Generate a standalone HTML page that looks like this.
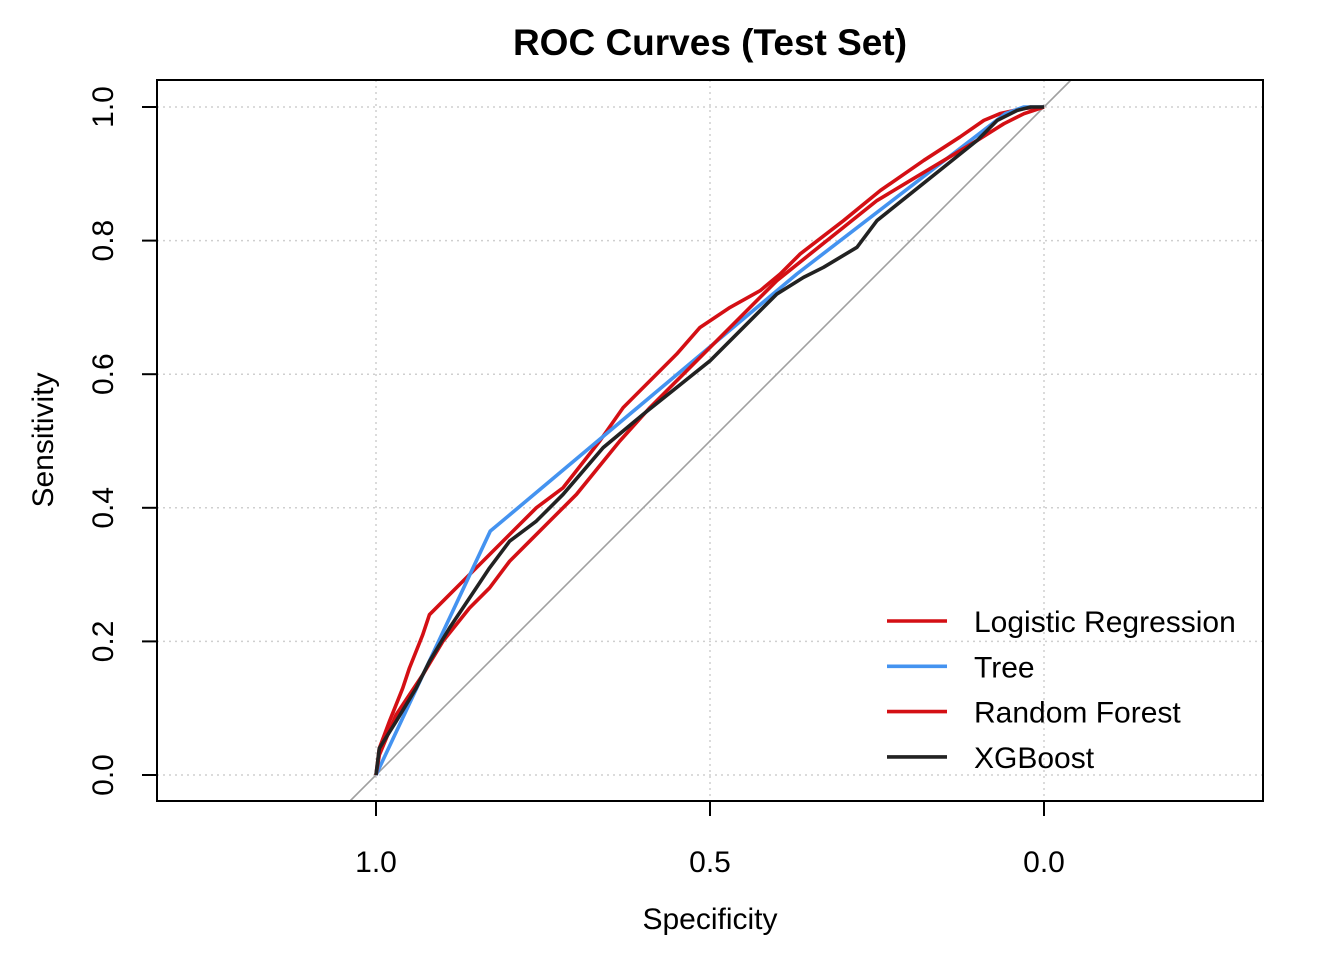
<!DOCTYPE html>
<html><head><meta charset="utf-8"><style>
body{margin:0;background:#fff;}
svg text{font-family:"Liberation Sans",Arial,sans-serif;}
</style></head><body>
<svg id="chart" width="1344" height="960" viewBox="0 0 1344 960" xmlns="http://www.w3.org/2000/svg">
<rect width="1344" height="960" fill="#fff"/>
<text x="710" y="55" text-anchor="middle" font-size="37" font-weight="bold">ROC Curves (Test Set)</text>
<g id="grid"></g>
<line id="diag" stroke="#a0a0a0" stroke-width="1.6"/>
<g id="series"></g>
<rect x="157" y="80" width="1106" height="721" fill="none" stroke="#000" stroke-width="2"/>
<g id="axes"></g>
<text x="710" y="929" text-anchor="middle" font-size="30">Specificity</text>
<text transform="translate(53,440) rotate(-90)" text-anchor="middle" font-size="30">Sensitivity</text>
<g id="legend"></g>
</svg>
<script>
const xTicks=[1.0,0.5,0.0];
const xTickLabels=["1.0","0.5","0.0"];
const yTicks=[0,0.2,0.4,0.6,0.8,1.0];
const yTickLabels=["0.0","0.2","0.4","0.6","0.8","1.0"];
const seriesNames=["Logistic Regression","Tree","Random Forest","XGBoost"];
const seriesColors=["#d40f14","#4493f0","#d40f14","#222222"];
const lrSpec=[1,0.995,0.98,0.96,0.95,0.93,0.92,0.9,0.87,0.84,0.8,0.76,0.72,0.665,0.63,0.59,0.55,0.515,0.47,0.425,0.395,0.365,0.3,0.245,0.18,0.126,0.09,0.066,0.03,0];
const lrSens=[0,0.04,0.08,0.13,0.16,0.21,0.24,0.26,0.29,0.32,0.36,0.4,0.43,0.5,0.55,0.59,0.63,0.67,0.7,0.725,0.75,0.78,0.83,0.875,0.92,0.955,0.98,0.99,0.998,1];
const treeSpec=[1,0.829,0.37,0.058,0.03,0];
const treeSens=[0,0.365,0.75,0.99,1,1];
const rfSpec=[1,0.995,0.97,0.93,0.9,0.86,0.83,0.8,0.77,0.74,0.7,0.635,0.59,0.55,0.5,0.46,0.4,0.35,0.3,0.25,0.2,0.15,0.1,0.06,0.03,0];
const rfSens=[0,0.03,0.09,0.15,0.2,0.25,0.28,0.32,0.35,0.38,0.42,0.5,0.55,0.59,0.64,0.68,0.74,0.78,0.82,0.86,0.89,0.92,0.95,0.975,0.99,1];
const xgSpec=[1,0.995,0.97,0.94,0.92,0.89,0.87,0.85,0.83,0.8,0.76,0.72,0.66,0.6,0.55,0.5,0.45,0.4,0.36,0.33,0.28,0.25,0.2,0.15,0.1,0.07,0.04,0.02,0];
const xgSens=[0,0.04,0.08,0.13,0.17,0.22,0.25,0.28,0.31,0.35,0.38,0.42,0.49,0.54,0.58,0.62,0.67,0.72,0.745,0.76,0.79,0.83,0.87,0.91,0.95,0.98,0.995,1,1];
const specArr=[lrSpec,treeSpec,rfSpec,xgSpec];
const sensArr=[lrSens,treeSens,rfSens,xgSens];

const NS="http://www.w3.org/2000/svg";
const sx=v=>1044-v*668;
const sy=v=>775-v*668;
function mk(tag,attrs,parent){const e=document.createElementNS(NS,tag);for(const k in attrs)e.setAttribute(k,attrs[k]);parent.appendChild(e);return e;}
const grid=document.getElementById('grid'),axes=document.getElementById('axes'),series=document.getElementById('series'),legend=document.getElementById('legend');
xTicks.forEach((t,i)=>{
 const g=mk('line',{x1:sx(t),x2:sx(t),y1:80,y2:801,stroke:'#cfcfcf','stroke-width':1.5,'stroke-dasharray':'2,4'},grid);
 
 
 const tk=mk('line',{x1:sx(t),x2:sx(t),y1:801,y2:816,stroke:'#000','stroke-width':2},axes);
 
 
 const tl=mk('text',{x:sx(t),y:872,'text-anchor':'middle','font-size':30},axes);
 tl.textContent=xTickLabels[i];
 
 
});
yTicks.forEach((t,i)=>{
 const g=mk('line',{x1:157,x2:1263,y1:sy(t),y2:sy(t),stroke:'#cfcfcf','stroke-width':1.5,'stroke-dasharray':'2,4'},grid);
 
 
 const tk=mk('line',{x1:142,x2:157,y1:sy(t),y2:sy(t),stroke:'#000','stroke-width':2},axes);
 
 
 const tl=mk('text',{transform:`translate(113,${sy(t)}) rotate(-90)`,'text-anchor':'middle','font-size':30},axes);
 tl.textContent=yTickLabels[i];
 
 
});
const d=document.getElementById('diag');
d.setAttribute('x1',sx(1+26/668));d.setAttribute('y1',801);d.setAttribute('x2',sx(-27/668));d.setAttribute('y2',80);
specArr.forEach((sp,i)=>{
 const pts=sp.map((s,j)=>sx(s)+','+sy(sensArr[i][j])).join(' ');
 const p=mk('polyline',{points:pts,fill:'none',stroke:seriesColors[i],'stroke-width':3.6,'stroke-linejoin':'round'},series);
 
 
});
seriesNames.forEach((n,i)=>{
 const y=621+i*45.3;
 const l=mk('line',{x1:887,x2:947,y1:y,y2:y,stroke:seriesColors[i],'stroke-width':3.6},legend);
 
 
 const t=mk('text',{x:974,y:y+11,'font-size':30},legend);
 t.textContent=n;
 
 
});
</script>
</body></html>
